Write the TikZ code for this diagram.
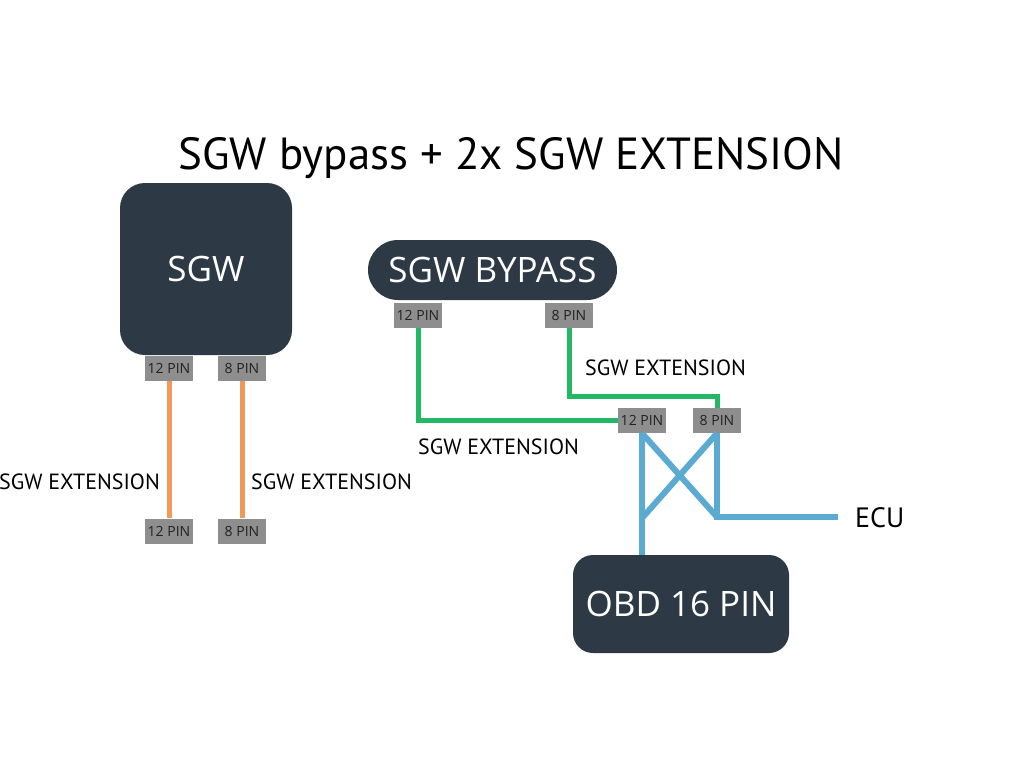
\documentclass[tikz,border=0pt]{standalone}
\usepackage{fontspec}
\setmainfont{Open Sans}
\newfontfamily\labfont{PT Sans}
\definecolor{boxdark}{HTML}{2D3944}
\definecolor{pingray}{HTML}{8E8E8E}
\definecolor{wireorange}{HTML}{F2995A}
\definecolor{wiregreen}{HTML}{22B866}
\definecolor{wireblue}{HTML}{5AAAD2}
\definecolor{txtdark}{HTML}{222222}
\begin{document}
\begin{tikzpicture}[x=1pt,y=-1pt,
  darkbox/.style={fill=boxdark,text=white,inner sep=0pt,font=\fontsize{35}{40}\selectfont},
  pinbox/.style={fill=pingray,text=txtdark,minimum width=48pt,minimum height=25pt,inner sep=0pt,font=\fontsize{14}{16}\selectfont},
  wirelabel/.style={text=black,inner sep=0pt,font=\labfont\fontsize{22}{26}\selectfont},
  orangewire/.style={draw=wireorange,line width=5pt},
  greenwire/.style={draw=wiregreen,line width=5pt,line join=miter},
  bluewire/.style={draw=wireblue,line width=6pt,line join=miter}
]
\path[fill=white,use as bounding box] (0,0) rectangle (1024,768);

\node[inner sep=0pt,font=\labfont\fontsize{45}{52}\selectfont] (title) at (511,158) {SGW bypass + 2x SGW EXTENSION};

% SGW
\node[darkbox,rounded corners=25pt,minimum width=172pt,minimum height=172pt] (sgw) at (206,269) {SGW};
\node[pinbox] (s12) at (169,368.5) {12 PIN};
\node[pinbox] (s8) at (242,368.5) {8 PIN};
\node[pinbox] (b12) at (169,531) {12 PIN};
\node[pinbox] (b8) at (242,531) {8 PIN};
\draw[orangewire] (s12.south) -- (b12.north);
\draw[orangewire] (s8.south) -- (b8.north);
\node[wirelabel,anchor=east] (l1) at (160,482) {SGW EXTENSION};
\node[wirelabel,anchor=west] (l2) at (251,482) {SGW EXTENSION};

% SGW BYPASS
\node[darkbox,rounded corners=30pt,minimum width=249pt,minimum height=60pt] (byp) at (492.5,270) {SGW BYPASS};
\node[pinbox] (p12) at (418,315.5) {12 PIN};
\node[pinbox] (p8) at (569,315.5) {8 PIN};
\node[pinbox] (e12) at (642,420.5) {12 PIN};
\node[pinbox] (e8) at (717,420.5) {8 PIN};
\draw[greenwire] (p12.south) |- (e12.west);
\coordinate (g8) at (569,396);
\draw[greenwire] (p8.south) -- (g8) -| (e8.north);
\node[wirelabel,anchor=west] (l3) at (585,368) {SGW EXTENSION};
\node[wirelabel,anchor=west] (l4) at (418,447) {SGW EXTENSION};

% OBD
\node[darkbox,rounded corners=20pt,minimum width=216pt,minimum height=98pt] (obd) at (681,604) {OBD 16 PIN};
\node[inner sep=0pt,anchor=west,font=\labfont\fontsize{28}{32}\selectfont] (ecu) at (855,518) {ECU};
\coordinate (j12) at (643,517);
\coordinate (j8) at (717,517);
\coordinate (ecuend) at (838,517);
\draw[bluewire] (e12.south) -- (e12.south |- obd.north);
\draw[bluewire] (e8.south) -- (j8) -- (ecuend);
\draw[bluewire] (e12.south) -- (j8);
\draw[bluewire] (e8.south) -- (j12);
\end{tikzpicture}
\end{document}
